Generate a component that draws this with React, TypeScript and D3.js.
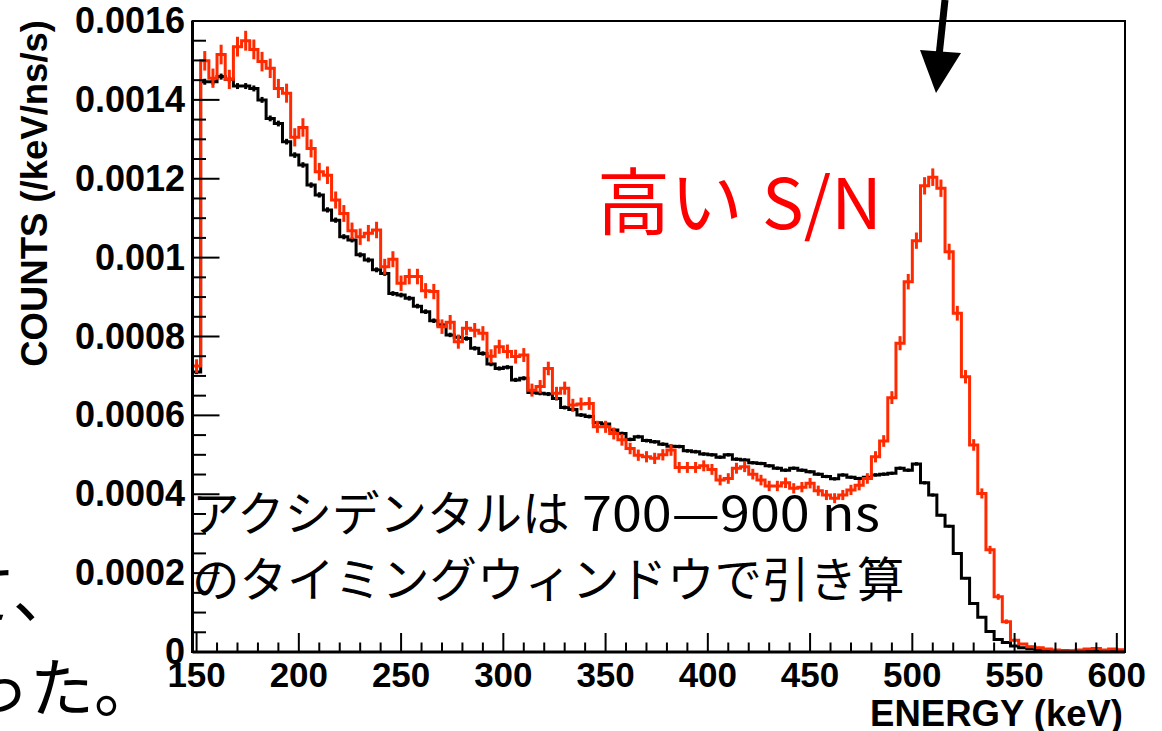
import React from "react";
import * as d3 from "d3";

// Histogram: 4 keV bins from 148 to 604 keV
const BIN_START = 148;
const BIN_WIDTH = 4;

// Red: total (prompt window) spectrum, in counts/keV/ns/s
const redValues = [
  7.25, 14.99, 14.55, 15.15, 14.52, 15.35, 15.5, 15.28, 14.97, 14.8,
  14.29, 14.17, 13.05, 13.3, 12.77, 12.18, 12.09, 11.46, 11.12, 10.68,
  10.53, 10.62, 10.7, 9.77, 9.96, 9.35, 9.52, 9.52, 9.16, 9.14,
  8.25, 8.36, 7.87, 8.21, 8.16, 8.08, 7.5, 7.74, 7.62, 7.49,
  7.53, 6.64, 6.73, 7.19, 6.56, 6.69, 6.26, 6.29, 6.3, 5.71,
  5.71, 5.54, 5.38, 5.16, 4.99, 4.95, 4.91, 5.0, 5.12, 4.68,
  4.68, 4.68, 4.72, 4.63, 4.36, 4.4, 4.66, 4.7, 4.51, 4.36,
  4.21, 4.21, 4.29, 4.15, 4.18, 4.28, 4.09, 3.98, 3.9, 3.98,
  4.11, 4.23, 4.4, 4.95, 5.35, 6.45, 7.83, 9.39, 10.43, 11.82,
  12.04, 11.76, 10.15, 8.59, 6.98, 5.25, 4.02, 2.59, 1.4, 0.77,
  0.3, 0.2, 0.135, 0.11, 0.076, 0.05, 0.03, 0.03, 0.05, 0.076,
  0.09, 0.05, 0.076, 0.06,
].map((v) => v * 1e-4);

// Black: spectrum without selection
const blackValues = [
  7.1, 14.46, 14.46, 14.59, 14.52, 14.35, 14.35, 14.29, 14.0, 13.53,
  13.4, 12.94, 12.6, 12.35, 11.84, 11.59, 11.21, 10.95, 10.53, 10.45,
  10.07, 9.94, 9.69, 9.6, 9.09, 9.05, 8.97, 8.77, 8.63, 8.4,
  8.29, 8.04, 7.98, 7.95, 7.7, 7.57, 7.3, 7.19, 7.22, 6.9,
  6.94, 6.58, 6.56, 6.54, 6.43, 6.2, 6.15, 6.01, 5.97, 5.81,
  5.78, 5.63, 5.54, 5.39, 5.46, 5.36, 5.33, 5.27, 5.22, 5.21,
  5.1, 5.08, 5.02, 5.0, 4.94, 5.0, 4.89, 4.87, 4.8, 4.78,
  4.72, 4.66, 4.61, 4.66, 4.61, 4.57, 4.51, 4.45, 4.39, 4.49,
  4.43, 4.4, 4.43, 4.49, 4.51, 4.53, 4.66, 4.61, 4.77, 4.29,
  3.98, 3.47, 3.19, 2.5, 1.87, 1.23, 0.88, 0.52, 0.32, 0.24,
  0.15, 0.11, 0.085, 0.06, 0.04, 0.03, 0.03, 0.02, 0.02, 0.02,
  0.02, 0.02, 0.01, 0.01,
].map((v) => v * 1e-4);

// statistical error scale factors (err = k * sqrt(value))
const RED_ERR_K = 6.4e-4;
const BLACK_ERR_K = 2.0e-4;

const xTickMajor = [150, 200, 250, 300, 350, 400, 450, 500, 550, 600];
const yTickMajor = [0, 0.0002, 0.0004, 0.0006, 0.0008, 0.001, 0.0012, 0.0014, 0.0016];

const X_DOMAIN: [number, number] = [148, 604];
const Y_DOMAIN: [number, number] = [0, 0.0016];

const xTitle = "ENERGY (keV)";
const yTitle = "COUNTS (/keV/ns/s)";
const snLabelJa = "高い";
const snLabelEn = "S/N";
const noteLine1Ja = "アクシデンタルは";
const noteLine1En = "700—900 ns";
const noteLine2 = "のタイミングウィンドウで引き算";
const sideLine1 = "て、";
const sideLine2 = "った。";

const W = 1162;
const H = 731;
const L = 192.5, R = 1125, T = 21, B = 652;

export default function App() {
  const x = d3.scaleLinear().domain(X_DOMAIN).range([L, R]);
  const y = d3.scaleLinear().domain(Y_DOMAIN).range([B, T]);

  const stepPath = (vals: number[]) => {
    const pts: [number, number][] = vals.map((v, i) => [BIN_START + i * BIN_WIDTH, v]);
    pts.push([BIN_START + vals.length * BIN_WIDTH, vals[vals.length - 1]]);
    return d3
      .line<[number, number]>()
      .x((d) => x(d[0]))
      .y((d) => y(d[1]))
      .curve(d3.curveStepAfter)(pts) as string;
  };

  const errBars = (vals: number[], k: number, color: string, sw: number) =>
    vals.map((v, i) => {
      const c = BIN_START + (i + 0.5) * BIN_WIDTH;
      const e = k * Math.sqrt(Math.max(v, 0));
      return (
        <line
          key={i}
          x1={x(c)}
          x2={x(c)}
          y1={y(Math.min(v + e, Y_DOMAIN[1]))}
          y2={y(Math.max(v - e, 0))}
          stroke={color}
          strokeWidth={sw}
        />
      );
    });

  const xMinor = d3.range(150, 601, 10);
  const yMinor = d3.range(0, 0.00161, 0.00005);
  const RED = "#ff2a00";
  const axisFont = "'Liberation Sans', Arial, Helvetica, sans-serif";
  const jpFont = "'Noto Sans CJK JP', 'Noto Sans', sans-serif";

  return (
    <svg
      width={W}
      height={H}
      style={{ position: "absolute", left: 0, top: 0, background: "#fff" }}
    >
      <rect x={0} y={0} width={W} height={H} fill="#fff" />

      {/* histograms */}
      <g fill="none" strokeLinejoin="miter">
        <path d={stepPath(blackValues)} stroke="#000" strokeWidth={3} />
        {errBars(blackValues, BLACK_ERR_K, "#000", 3)}
        <path d={stepPath(redValues)} stroke={RED} strokeWidth={3} />
        {errBars(redValues, RED_ERR_K, RED, 3)}
      </g>

      {/* frame */}
      <rect x={L} y={T} width={R - L} height={B - T} fill="none" stroke="#000" strokeWidth={2} />
      <line x1={L} x2={L} y1={T} y2={B + 1} stroke="#000" strokeWidth={3} />
      <line x1={L} x2={R} y1={B} y2={B} stroke="#000" strokeWidth={3} />

      {/* x ticks */}
      {xMinor.map((t) => {
        const major = t % 50 === 0;
        return (
          <line key={"xt" + t} x1={x(t)} x2={x(t)} y1={B} y2={B - (major ? 19 : 9.5)} stroke="#000" strokeWidth={2} />
        );
      })}
      {/* y ticks */}
      {yMinor.map((t, i) => {
        const major = i % 4 === 0;
        return (
          <line key={"yt" + i} x1={L} x2={L + (major ? 27 : 13.5)} y1={y(t)} y2={y(t)} stroke="#000" strokeWidth={2} />
        );
      })}

      {/* tick labels */}
      <g fontFamily={axisFont} fontWeight="bold" fontSize={35} fill="#000">
        {xTickMajor.map((t) => (
          <text key={"xl" + t} x={x(t)} y={687} textAnchor="middle">
            {t}
          </text>
        ))}
        {yTickMajor.map((t) => (
          <text key={"yl" + t} x={185} y={y(t) + 12} textAnchor="end" fontSize={36}>
            {String(+t.toFixed(4))}
          </text>
        ))}
        <text x={1123} y={726} textAnchor="end" fontSize={36.5}>
          {xTitle}
        </text>
        <text transform="translate(47,20) rotate(-90)" textAnchor="end" fontSize={36.5}>
          {yTitle}
        </text>
      </g>

      {/* annotations */}
      <text x={597} y={229} fontFamily={jpFont} fontSize={73} fill="#ff0000">
        {snLabelJa}
        <tspan x={762} fontSize={70}>{snLabelEn}</tspan>
      </text>
      <g fontFamily={jpFont} fontSize={47.5} fill="#000">
        <text x={192} y={531}>
          {noteLine1Ja}
          <tspan x={582} textLength={298} lengthAdjust="spacingAndGlyphs">
            {noteLine1En}
          </tspan>
        </text>
        <text x={192} y={597}>{noteLine2}</text>
      </g>
      <g fontFamily={jpFont} fontSize={64} fill="#000">
        <text x={-48} y={617}>{sideLine1}</text>
        <text x={-34} y={711}>{sideLine2}</text>
      </g>

      {/* arrow */}
      <line x1={945} y1={0} x2={939} y2={56} stroke="#000" strokeWidth={7} />
      <polygon points="920,50 961,53 936,93" fill="#000" />
    </svg>
  );
}
